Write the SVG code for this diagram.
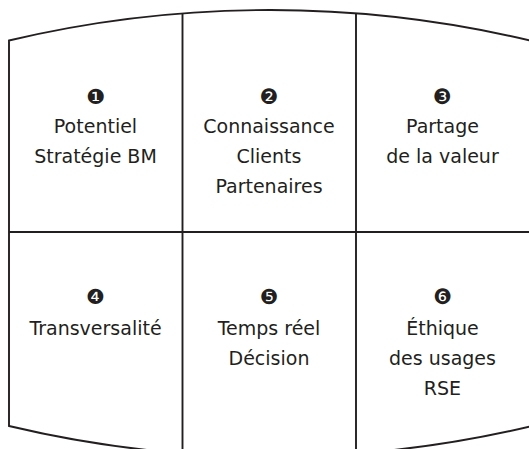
<svg xmlns="http://www.w3.org/2000/svg" width="529" height="449" viewBox="0 0 529 449">
<style>
.ln{fill:none;stroke:#231f20;stroke-width:1.9}
.t{font-family:"DejaVu Sans",sans-serif;font-size:19px;fill:#231f20;text-anchor:middle}
.n{font-family:"DejaVu Sans",sans-serif;font-size:21px;fill:#231f20;text-anchor:middle}
</style>
<rect width="529" height="449" fill="#ffffff"/>
<g id="connectors">
<path class="ln" d="M9,426 L9,40.5 A1128,1128 0 0 1 532,41 L532,426 A1128,1128 0 0 1 9,426 Z"/>
<line class="ln" x1="182.5" y1="13" x2="182.5" y2="460"/>
<line class="ln" x1="356" y1="13" x2="356" y2="460"/>
<line class="ln" x1="9" y1="232" x2="532" y2="232"/>
</g>
<g id="node1">
<text class="n" x="95.5" y="103.5">❶</text>
<text class="t" x="95.5" y="133">Potentiel</text>
<text class="t" x="95.5" y="163">Stratégie BM</text>
</g>
<g id="node2">
<text class="n" x="269" y="103.5">❷</text>
<text class="t" x="269" y="133">Connaissance</text>
<text class="t" x="269" y="163">Clients</text>
<text class="t" x="269" y="193">Partenaires</text>
</g>
<g id="node3">
<text class="n" x="442.5" y="103.5">❸</text>
<text class="t" x="442.5" y="133">Partage</text>
<text class="t" x="442.5" y="163">de la valeur</text>
</g>
<g id="node4">
<text class="n" x="95.5" y="304">❹</text>
<text class="t" x="95.5" y="335">Transversalité</text>
</g>
<g id="node5">
<text class="n" x="269" y="304">❺</text>
<text class="t" x="269" y="335">Temps réel</text>
<text class="t" x="269" y="365">Décision</text>
</g>
<g id="node6">
<text class="n" x="442.5" y="304">❻</text>
<text class="t" x="442.5" y="335">Éthique</text>
<text class="t" x="442.5" y="365">des usages</text>
<text class="t" x="442.5" y="395">RSE</text>
</g>
</svg>
